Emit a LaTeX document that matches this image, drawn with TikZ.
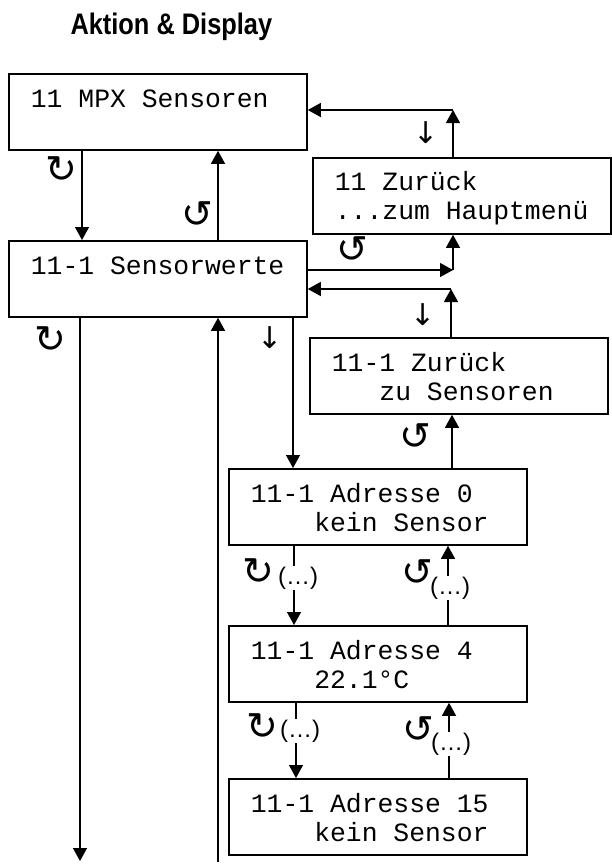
\documentclass[tikz,border=0pt]{standalone}
\usepackage{fontspec}
\usepackage{graphicx}
\usepackage{tikz}
\usetikzlibrary{arrows.meta}
\newfontfamily\lcdfont{Liberation Mono}
\newfontfamily\headfont{Liberation Sans}
\newfontfamily\symfont{DejaVu Sans}
\newcommand{\lcdsize}{\lcdfont\fontsize{26.4}{29}\selectfont\fontdimen2\font=15.84pt\relax}
\newcommand{\lcdstrut}{\rule[-4pt]{0pt}{28pt}}
\newcommand{\lcd}[2]{\spaceskip=15.84pt\relax\xspaceskip=15.84pt\relax\lcdstrut#1\\\lcdstrut#2}
\tikzset{
    menubox/.style={draw, line width=1.8pt, anchor=north west, text width=254pt,
        inner xsep=22pt, inner ysep=0pt, minimum height=76pt, align=left,
        font=\lcdsize},
    flow/.style={line width=1.3pt, -{Triangle[length=13pt,width=14pt]}},
    turn/.style={font=\symfont\fontsize{38}{38}\selectfont, inner sep=0pt},
    push/.style={font=\symfont\fontsize{30}{30}\selectfont, inner sep=0pt},
    more/.style={font=\headfont\fontsize{24}{24}\selectfont, fill=white, inner sep=1pt}
}
\begin{document}
\begin{tikzpicture}[x=1pt, y=-1pt]
                \useasboundingbox (0,0) rectangle (612,868);
                \node[anchor=base west, font=\headfont\bfseries\fontsize{27}{27}\selectfont]
                    (title) at (67,34) {\scalebox{0.94}[1.1]{Aktion \& Display}};
                \node[menubox] (mpx) at (8,73) {\lcd{11 MPX Sensoren}{}};
                \node[menubox] (werte) at (8,240) {\lcd{11-1 Sensorwerte}{}};
                \node[menubox] (haupt) at (312,157) {\lcd{11 Zurück}{...zum Hauptmenü}};
                \node[menubox] (zurueck) at (309,337) {\lcd{11-1 Zurück}{\phantom{000}zu Sensoren}};
                \node[menubox] (adr0) at (228,468) {\lcd{11-1 Adresse 0}{\phantom{0000}kein Sensor}};
                \node[menubox] (adr4) at (228,625) {\lcd{11-1 Adresse 4}{\phantom{0000}22.1°C}};
                \node[menubox] (adr15) at (228,778) {\lcd{11-1 Adresse 15}{\phantom{0000}kein Sensor}};
                \coordinate (k1) at (453,110);
                \coordinate (k2) at (453,270);
                \coordinate (k3) at (451,289);
                \coordinate (endL) at (80,861);
                \coordinate (startU) at (218,862);
                \draw[flow] ([xshift=74pt]mpx.south west) -- ([xshift=74pt]werte.north west);
                \draw[flow] ([xshift=210pt]werte.north west) -- ([xshift=210pt]mpx.south west);
                \draw[flow] (haupt.north -| k1) -- (k1);
                \draw[flow] (k1) -- (mpx.east |- k1);
                \draw[flow] (werte.east |- k2) -- (k2);
                \draw[flow] (k2) -- (haupt.south -| k2);
                \draw[flow] (zurueck.north -| k3) -- (k3);
                \draw[flow] (k3) -- (werte.east |- k3);
                \draw[flow] ([xshift=285pt]werte.south west) -- ([xshift=285pt]werte.south west |- adr0.north);
                \draw[flow] ([xshift=224pt]adr0.north west) -- ([xshift=224pt]adr0.north west |- zurueck.south);
                \draw[flow] (werte.south -| endL) -- (endL);
                \draw[flow] (startU) -- (werte.south -| startU);
                \draw[flow] ([xshift=66pt]adr0.south west) -- ([xshift=66pt]adr4.north west);
                \draw[flow] ([xshift=220pt]adr4.north west) -- ([xshift=220pt]adr0.south west);
                \draw[flow] ([xshift=68pt]adr4.south west) -- ([xshift=68pt]adr15.north west);
                \draw[flow] ([xshift=221pt]adr15.north west) -- ([xshift=221pt]adr4.south west);
                \node[turn] (t1) at (61,170) {↻};
                \node[turn] (t2) at (197,215) {↺};
                \node[turn] (t3) at (352,250) {↺};
                \node[turn] (t4) at (50,340) {↻};
                \node[turn] (t5) at (415,437) {↺};
                \node[turn] (t6) at (258,572) {↻};
                \node[turn] (t7) at (417,573) {↺};
                \node[turn] (t8) at (262,727) {↻};
                \node[turn] (t9) at (418,730) {↺};
                \node[push] (p1) at (426,133) {↓};
                \node[push] (p2) at (423,315) {↓};
                \node[push] (p3) at (270,338) {↓};
                \node[more] (m1) at (298,578) {(…)};
                \node[more] (m2) at (450,588) {(…)};
                \node[more] (m3) at (300,731) {(…)};
                \node[more] (m4) at (451,744) {(…)};
            \end{tikzpicture}
\end{document}
